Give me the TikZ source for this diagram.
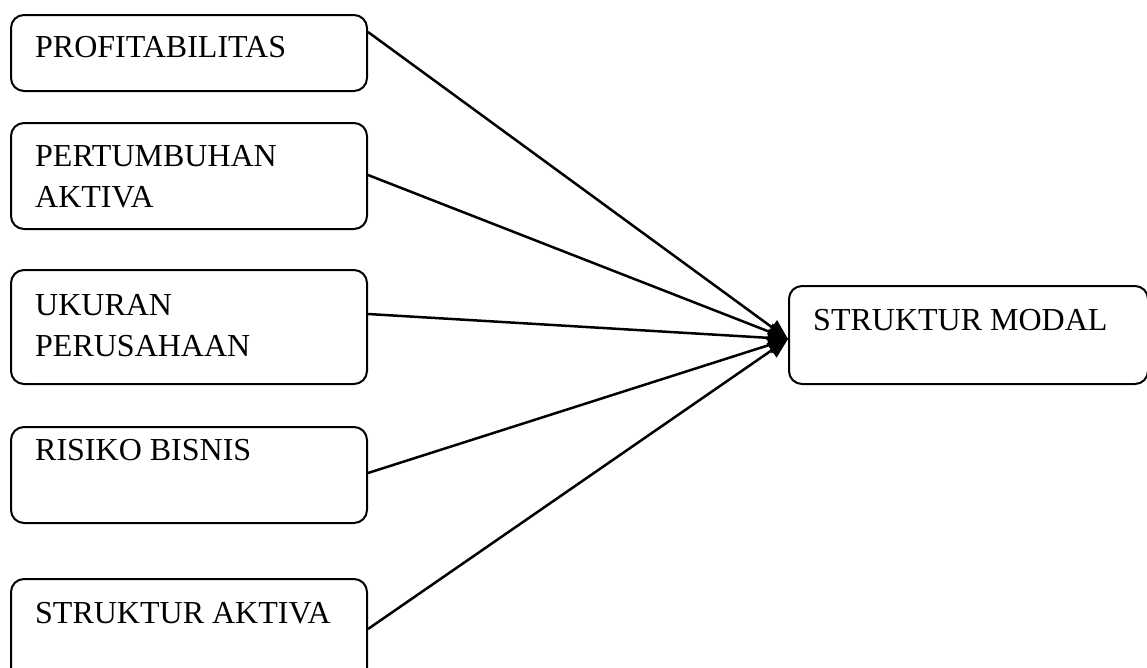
\documentclass[tikz,border=0pt]{standalone}
\usepackage{fontspec}
\setmainfont{Liberation Serif}
\usetikzlibrary{arrows.meta}
\begin{document}
\begin{tikzpicture}[x=1pt,y=-1pt,
  box/.style={draw, line width=2pt, rounded corners=13pt, anchor=north west, inner sep=0pt},
  lbl/.style={anchor=base west, inner sep=0pt, font=\fontsize{32}{41}\selectfont},
  conn/.style={line width=2.5pt, -{Triangle[length=20pt,width=17pt]}}]
\clip (0,0) rectangle (1147,667);
\useasboundingbox (0,0) rectangle (1147,667);
% boxes
\node[box, minimum width=356pt, minimum height=76pt] (b1) at (10,14) {};
\node[box, minimum width=356pt, minimum height=106pt] (b2) at (10,122) {};
\node[box, minimum width=356pt, minimum height=114pt] (b3) at (10,269) {};
\node[box, minimum width=356pt, minimum height=96pt] (b4) at (10,426) {};
\node[box, minimum width=356pt, minimum height=110pt] (b5) at (10,578) {};
\node[box, minimum width=359pt, minimum height=98pt] (m) at (788,285) {};
% texts
\node[lbl] (t1) at (35,57) {PROFITABILITAS};
\node[lbl] (t2) at (35,166) {PERTUMBUHAN};
\node[lbl] (t2b) at (35,207) {AKTIVA};
\node[lbl] (t3) at (35,315) {UKURAN};
\node[lbl] (t3b) at (35,356) {PERUSAHAAN};
\node[lbl] (t4) at (35,460) {RISIKO BISNIS};
\node[lbl] (t5) at (35,623) {STRUKTUR AKTIVA};
\node[lbl] (tm) at (813,330) {STRUKTUR MODAL};
% connectors
\coordinate (tip) at ([yshift=-4pt]m.west);
\draw[conn] ([yshift=-18pt]b1.north east) -- (tip);
\draw[conn] ([yshift=-53pt]b2.north east) -- (tip);
\draw[conn] ([yshift=-45pt]b3.north east) -- (tip);
\draw[conn] ([yshift=-47pt]b4.north east) -- (tip);
\draw[conn] ([yshift=-51pt]b5.north east) -- (tip);
\end{tikzpicture}
\end{document}
